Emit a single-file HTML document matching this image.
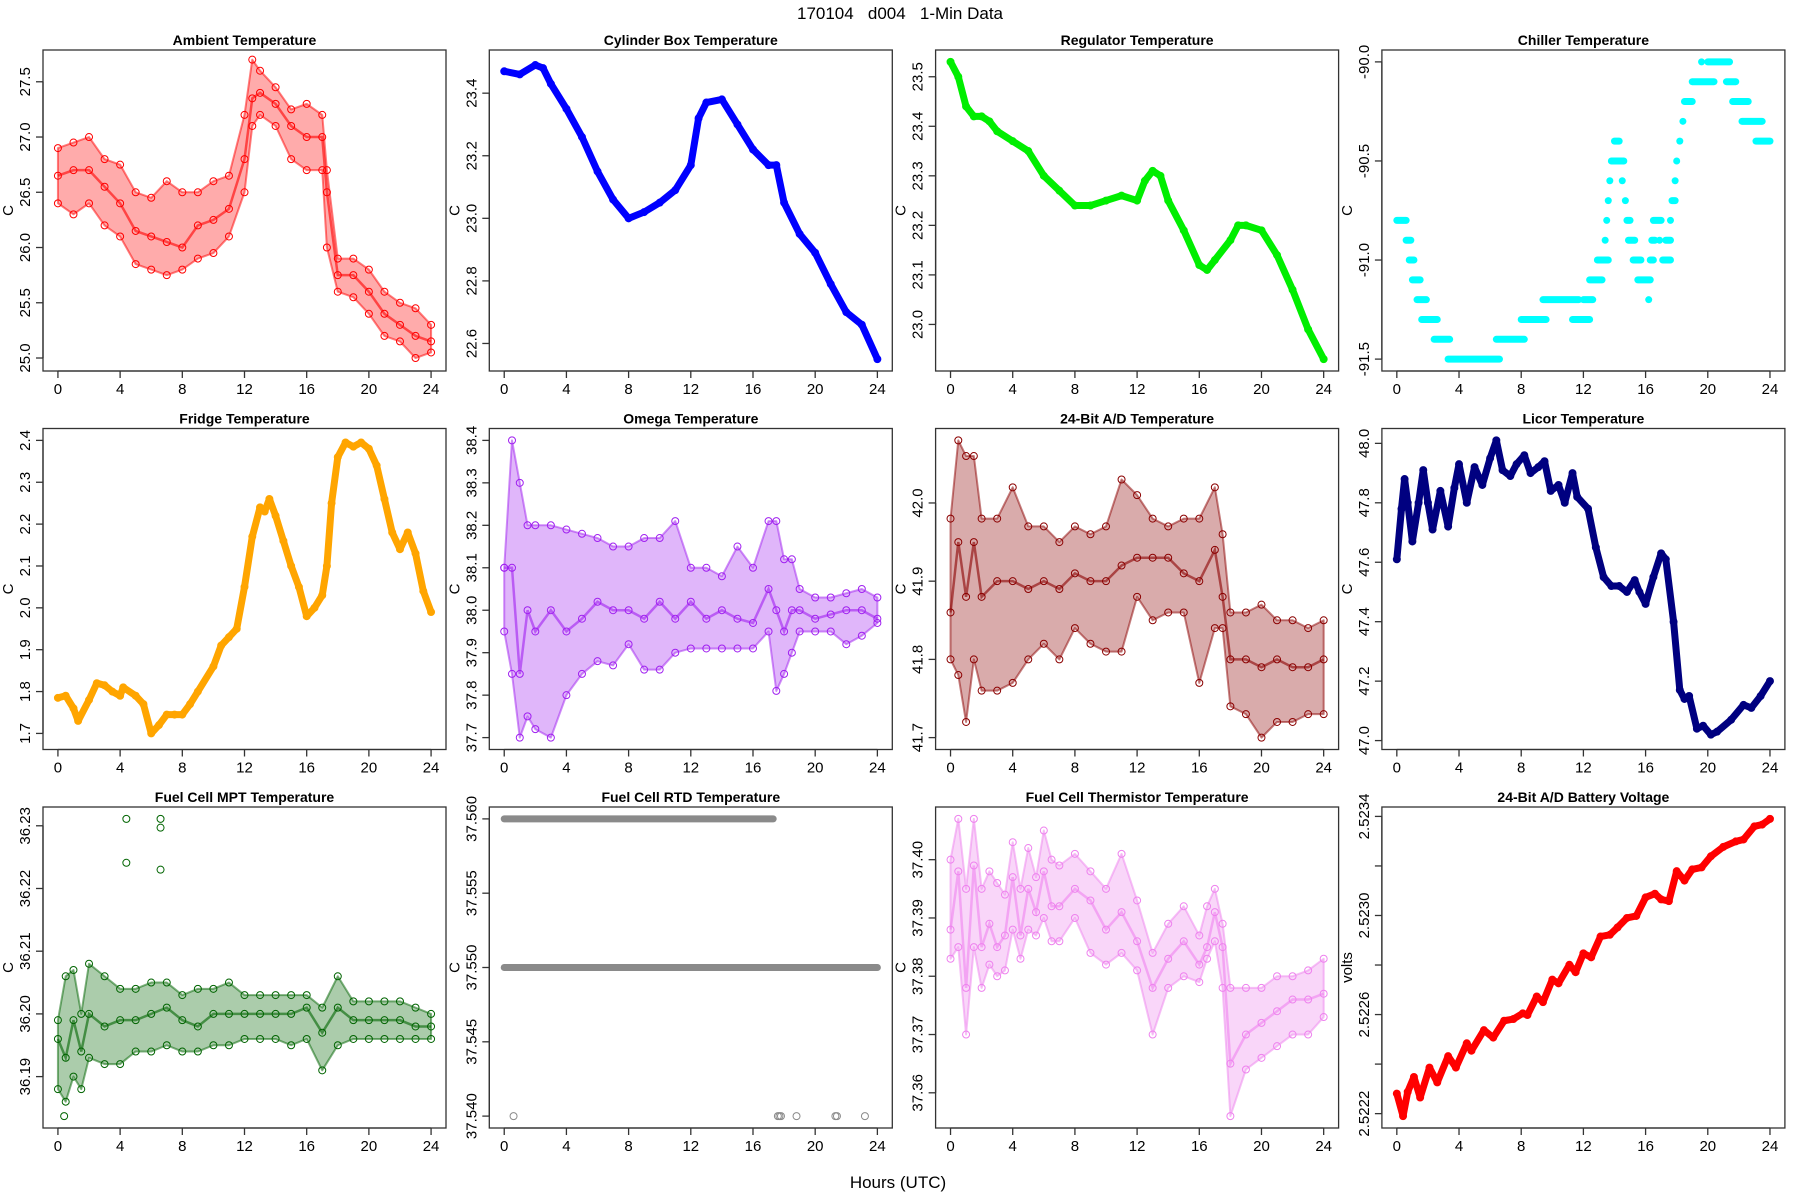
<!DOCTYPE html>
<html><head><meta charset="utf-8"><title>170104 d004 1-Min Data</title>
<style>
html,body{margin:0;padding:0;background:#fff;}
svg{display:block;font-family:"Liberation Sans",Arial,sans-serif;}
</style></head>
<body>
<svg id="root" width="1800" height="1200" viewBox="0 0 1800 1200" xmlns="http://www.w3.org/2000/svg">
<rect x="0" y="0" width="1800" height="1200" fill="#fff"/>
<text x="900" y="19" text-anchor="middle" font-size="17" xml:space="preserve">170104   d004   1-Min Data</text>
<text x="898" y="1188" text-anchor="middle" font-size="17">Hours (UTC)</text>
</svg>
<script>
// ---------- data ----------
const xTicks=[0,4,8,12,16,20,24];

const ambHours=[0,1,2,3,4,5,6,7,8,9,10,11,12,12.5,13,14,15,16,17,17.3,18,19,20,21,22,23,24];
const ambMid=[26.65,26.7,26.7,26.55,26.4,26.15,26.1,26.05,26.0,26.2,26.25,26.35,26.8,27.35,27.4,27.3,27.1,27.0,27.0,26.5,25.75,25.75,25.6,25.4,25.3,25.2,25.15];
const ambLo=[26.4,26.3,26.4,26.2,26.1,25.85,25.8,25.75,25.8,25.9,25.95,26.1,26.5,27.1,27.2,27.1,26.8,26.7,26.7,26.0,25.6,25.55,25.4,25.2,25.15,25.0,25.05];
const ambHi=[26.9,26.95,27.0,26.8,26.75,26.5,26.45,26.6,26.5,26.5,26.6,26.65,27.2,27.7,27.6,27.45,27.25,27.3,27.2,26.7,25.9,25.9,25.8,25.6,25.5,25.45,25.3];
const ambTicks=[25.0,25.5,26.0,26.5,27.0,27.5];

const cylHours=[0,1,2,2.5,3,4,5,6,7,8,9,10,11,12,12.5,13,14,15,16,17,17.5,18,19,20,21,22,23,24];
const cylVals=[23.47,23.46,23.49,23.48,23.43,23.35,23.26,23.15,23.06,23.0,23.02,23.05,23.09,23.17,23.32,23.37,23.38,23.30,23.22,23.17,23.17,23.05,22.95,22.89,22.79,22.70,22.66,22.55];
const cylTicks=[22.6,22.8,23.0,23.2,23.4];

const regHours=[0,0.5,1,1.5,2,2.5,3,4,5,6,7,8,9,10,11,12,12.5,13,13.5,14,15,16,16.5,17,18,18.5,19,20,21,22,23,24];
const regVals=[23.53,23.50,23.44,23.42,23.42,23.41,23.39,23.37,23.35,23.30,23.27,23.24,23.24,23.25,23.26,23.25,23.29,23.31,23.30,23.25,23.19,23.12,23.11,23.13,23.17,23.20,23.20,23.19,23.14,23.07,22.99,22.93];
const regTicks=[23.0,23.1,23.2,23.3,23.4,23.5];

const chlStart=[0,0.6,0.8,1.0,1.3,1.6,2.4,3.3,6.4,8.0,9.4,11.3,12.0,12.4,12.9,13.4,13.5,13.6,13.7,13.8,14.0,14.2,14.5,14.7,14.8,14.9,15.2,15.5,16.2,16.3,16.4,16.5,16.9,17.1,17.3,17.6,17.7,17.9,18.0,18.2,18.4,18.5,19.0,19.6,20.0,21.2,21.6,22.2,23.1];
const chlEnd=[0.6,0.9,1.1,1.5,1.9,2.6,3.4,6.6,8.2,9.6,11.7,12.4,12.6,13.2,13.6,13.4,13.5,13.6,13.7,14.2,14.3,14.6,14.5,14.7,15.0,15.3,15.7,16.3,16.2,16.5,16.6,17.0,16.9,17.6,17.6,17.6,17.9,17.9,18.0,18.2,18.4,19.0,20.4,19.6,21.4,21.8,22.6,23.5,24.0];
const chlVals=[-90.8,-90.9,-91.0,-91.1,-91.2,-91.3,-91.4,-91.5,-91.4,-91.3,-91.2,-91.3,-91.2,-91.1,-91.0,-90.9,-90.8,-90.7,-90.6,-90.5,-90.4,-90.5,-90.6,-90.7,-90.8,-90.9,-91.0,-91.1,-91.2,-91.0,-90.9,-90.8,-90.9,-91.0,-90.9,-90.8,-90.7,-90.6,-90.5,-90.4,-90.3,-90.2,-90.1,-90.0,-90.0,-90.1,-90.2,-90.3,-90.4];
const chlTicks=[-91.5,-91.0,-90.5,-90.0];

const frgHours=[0,0.5,1,1.3,2,2.5,3,3.5,4,4.2,5,5.5,6,6.5,7,7.5,8,8.5,9,10,10.5,11,11.5,12,12.5,13,13.3,13.6,14,14.5,15,15.5,16,16.5,17,17.3,17.6,18,18.5,19,19.5,20,20.5,21,21.5,22,22.5,23,23.5,24];
const frgVals=[1.785,1.79,1.76,1.73,1.78,1.82,1.815,1.80,1.79,1.81,1.79,1.77,1.70,1.72,1.745,1.745,1.745,1.77,1.80,1.86,1.91,1.93,1.95,2.05,2.17,2.24,2.23,2.26,2.22,2.16,2.10,2.05,1.98,2.00,2.03,2.10,2.25,2.36,2.395,2.385,2.395,2.38,2.34,2.26,2.18,2.14,2.18,2.13,2.04,1.99];
const frgTicks=[1.7,1.8,1.9,2.0,2.1,2.2,2.3,2.4];

const omgHours=[0,0.5,1,1.5,2,3,4,5,6,7,8,9,10,11,12,13,14,15,16,17,17.5,18,18.5,19,20,21,22,23,24];
const omgMid=[38.1,38.1,37.85,38.0,37.95,38.0,37.95,37.98,38.02,38.0,38.0,37.98,38.02,37.98,38.02,37.98,38.0,37.98,37.97,38.05,38.0,37.95,38.0,38.0,37.98,37.99,38.0,38.0,37.98];
const omgLo=[37.95,37.85,37.70,37.75,37.72,37.70,37.80,37.85,37.88,37.87,37.92,37.86,37.86,37.9,37.91,37.91,37.91,37.91,37.91,37.95,37.81,37.85,37.9,37.95,37.95,37.95,37.92,37.94,37.97];
const omgHi=[38.1,38.40,38.3,38.2,38.2,38.2,38.19,38.18,38.17,38.15,38.15,38.17,38.17,38.21,38.1,38.1,38.08,38.15,38.1,38.21,38.21,38.12,38.12,38.05,38.03,38.03,38.04,38.05,38.03];
const omgTicks=[37.7,37.8,37.9,38.0,38.1,38.2,38.3,38.4];

const adHours=[0,0.5,1,1.5,2,3,4,5,6,7,8,9,10,11,12,13,14,15,16,17,17.5,18,19,20,21,22,23,24];
const adMid=[41.86,41.95,41.88,41.95,41.88,41.90,41.90,41.89,41.90,41.89,41.91,41.90,41.90,41.92,41.93,41.93,41.93,41.91,41.90,41.94,41.88,41.80,41.80,41.79,41.80,41.79,41.79,41.80];
const adLo=[41.80,41.78,41.72,41.80,41.76,41.76,41.77,41.80,41.82,41.80,41.84,41.82,41.81,41.81,41.88,41.85,41.86,41.86,41.77,41.84,41.84,41.74,41.73,41.70,41.72,41.72,41.73,41.73];
const adHi=[41.98,42.08,42.06,42.06,41.98,41.98,42.02,41.97,41.97,41.95,41.97,41.96,41.97,42.03,42.01,41.98,41.97,41.98,41.98,42.02,41.96,41.86,41.86,41.87,41.85,41.85,41.84,41.85];
const adTicks=[41.7,41.8,41.9,42.0];

const licHours=[0,0.3,0.5,0.7,1,1.4,1.7,2,2.3,2.8,3.3,3.7,4,4.5,5,5.5,6,6.4,6.8,7.3,7.7,8.2,8.6,9.1,9.5,9.9,10.4,10.8,11.3,11.6,12.3,12.8,13.3,13.8,14.3,14.8,15.3,15.6,16,16.5,17,17.3,17.8,18.2,18.5,18.8,19.3,19.7,20.2,20.6,21.5,22.3,22.8,23.4,24];
const licVals=[47.61,47.78,47.88,47.80,47.67,47.80,47.91,47.80,47.71,47.84,47.72,47.85,47.93,47.80,47.92,47.86,47.95,48.01,47.91,47.89,47.93,47.96,47.90,47.92,47.94,47.84,47.86,47.80,47.90,47.82,47.78,47.65,47.55,47.52,47.52,47.50,47.54,47.50,47.46,47.55,47.63,47.61,47.40,47.17,47.14,47.15,47.04,47.05,47.02,47.03,47.07,47.12,47.11,47.15,47.20];
const licTicks=[47.0,47.2,47.4,47.6,47.8,48.0];

const mptHours=[0,0.5,1,1.5,2,3,4,5,6,7,8,9,10,11,12,13,14,15,16,17,18,19,20,21,22,23,24];
const mptMid=[36.196,36.193,36.199,36.194,36.200,36.198,36.199,36.199,36.200,36.201,36.199,36.198,36.200,36.200,36.200,36.200,36.200,36.200,36.201,36.197,36.201,36.199,36.199,36.199,36.199,36.198,36.198];
const mptLo=[36.188,36.186,36.190,36.188,36.193,36.192,36.192,36.194,36.194,36.195,36.194,36.194,36.195,36.195,36.196,36.196,36.196,36.195,36.196,36.191,36.195,36.196,36.196,36.196,36.196,36.196,36.196];
const mptHi=[36.199,36.206,36.207,36.200,36.208,36.206,36.204,36.204,36.205,36.205,36.203,36.204,36.204,36.205,36.203,36.203,36.203,36.203,36.203,36.201,36.206,36.202,36.202,36.202,36.202,36.201,36.200];
const mptOutHours=[4.4,4.4,6.6,6.6,6.6,0.4];
const mptOutVals=[36.2311,36.2241,36.2311,36.2297,36.2230,36.1837];
const mptTicks=[36.19,36.20,36.21,36.22,36.23];

const rtdStart=[0,0];
const rtdEnd=[17.3,24];
const rtdLevels=[37.56,37.55];
const rtdLowHours=[0.6,17.6,17.7,17.8,18.8,21.3,21.4,23.2];
const rtdLowVals=[37.54,37.54,37.54,37.54,37.54,37.54,37.54,37.54];
const rtdTicks=[37.540,37.545,37.550,37.555,37.560];

const thmHours=[0,0.5,1,1.5,2,2.5,3,3.5,4,4.5,5,5.5,6,6.5,7,8,9,10,11,12,13,14,15,16,16.5,17,17.5,18,19,20,21,22,23,24];
const thmMid=[37.388,37.398,37.378,37.399,37.385,37.389,37.385,37.387,37.397,37.387,37.395,37.391,37.398,37.392,37.392,37.395,37.393,37.388,37.391,37.386,37.378,37.383,37.386,37.382,37.385,37.391,37.385,37.365,37.370,37.372,37.374,37.376,37.376,37.377];
const thmLo=[37.383,37.385,37.370,37.385,37.378,37.382,37.380,37.381,37.388,37.383,37.388,37.387,37.390,37.386,37.386,37.390,37.384,37.382,37.384,37.381,37.370,37.378,37.380,37.379,37.383,37.386,37.378,37.356,37.364,37.366,37.368,37.370,37.370,37.373];
const thmHi=[37.400,37.407,37.395,37.407,37.395,37.398,37.396,37.394,37.403,37.395,37.402,37.397,37.405,37.400,37.399,37.401,37.398,37.395,37.401,37.393,37.384,37.389,37.392,37.387,37.392,37.395,37.389,37.378,37.378,37.378,37.380,37.380,37.381,37.383];
const thmTicks=[37.36,37.37,37.38,37.39,37.40];

const batHours=[0,0.4,0.7,1.1,1.5,2.1,2.6,3.3,3.8,4.5,4.8,5.6,6.2,6.9,7.5,8.1,8.4,9.0,9.4,10.0,10.4,11.1,11.5,12.0,12.5,13.1,13.7,14.2,14.8,15.4,16.0,16.6,17.0,17.5,18.0,18.5,19.0,19.6,20.2,21.0,21.8,22.3,23.0,23.5,24];
const batVals=[2.522281,2.52219,2.522288,2.522348,2.522265,2.522386,2.522326,2.522432,2.522386,2.522484,2.522454,2.522537,2.522507,2.522575,2.522582,2.522605,2.522598,2.522673,2.52265,2.522741,2.522726,2.522801,2.522771,2.522847,2.522831,2.522915,2.522922,2.522952,2.52299,2.522998,2.523073,2.523088,2.523065,2.523058,2.523179,2.523141,2.523186,2.523194,2.523239,2.523277,2.523299,2.523307,2.52336,2.523367,2.52339];
const batTicks=[2.5222,2.5224,2.5226,2.5228,2.5230,2.5232,2.5234];
const batLabels=["2.5222","","2.5226","","2.5230","","2.5234"];

// ---------- drawing ----------
const NS="http://www.w3.org/2000/svg";
const root=document.getElementById('root');
function mk(tag,attrs,parent){const e=document.createElementNS(NS,tag);for(const k in attrs)e.setAttribute(k,attrs[k]);(parent||root).appendChild(e);return e;}
const ROWT=[50,428.5,807];
function makePanel(i,y0,y1){
  const col=i%4,row=Math.floor(i/4);
  const p={L:43+446.3*col,T:ROWT[row],W:403,H:321,y0:y0,y1:y1};
  p.X=h=>p.L+((h+0.96)/25.92)*p.W;
  p.Y=v=>{const r=p.y1-p.y0;return p.T+p.H-((v-(p.y0-0.04*r))/(1.08*r))*p.H;};
  return p;
}
function axes(p,g,title,ylab,yTicks,yLabels,dec){
  const t=mk('text',{x:p.L+p.W/2,y:p.T-5,'text-anchor':'middle','font-size':14,'font-weight':'bold'},g);
  t.textContent=title;
  
  
  const b=mk('rect',{x:p.L,y:p.T,width:p.W,height:p.H,fill:'none',stroke:'#333','stroke-width':1.3},g);
  
  
  const xb=p.T+p.H;
  const xl=mk('line',{x1:p.X(xTicks[0]),x2:p.X(xTicks[xTicks.length-1]),y1:xb,y2:xb,stroke:'#333','stroke-width':1.3},g);
  
  
  xTicks.forEach(h=>{
    const tk=mk('line',{x1:p.X(h),x2:p.X(h),y1:xb,y2:xb+7,stroke:'#333','stroke-width':1.3},g);
    
    
    const lb=mk('text',{x:p.X(h),y:xb+23,'text-anchor':'middle','font-size':15},g);
    lb.textContent=String(h);
    
    
  });
  const yl=mk('line',{x1:p.L,x2:p.L,y1:p.Y(yTicks[0]),y2:p.Y(yTicks[yTicks.length-1]),stroke:'#333','stroke-width':1.3},g);
  
  
  yTicks.forEach((v,k)=>{
    const y=p.Y(v);
    const tk=mk('line',{x1:p.L-7,x2:p.L,y1:y,y2:y,stroke:'#333','stroke-width':1.3},g);
    
    
    const s=yLabels?yLabels[k]:v.toFixed(dec);
    if(s){
      const lb=mk('text',{x:p.L-13,y:y,'text-anchor':'middle','font-size':15,transform:`rotate(-90 ${p.L-13} ${y})`},g);
      lb.textContent=s;
      
      
    }
  });
  const yt=mk('text',{x:p.L-30,y:p.T+p.H/2,'text-anchor':'middle','font-size':15,transform:`rotate(-90 ${p.L-30} ${p.T+p.H/2})`},g);
  yt.textContent=ylab;
  
  
}
function circles(p,g,hs,vs,color){
  hs.forEach((h,k)=>{
    const c=mk('circle',{cx:p.X(h),cy:p.Y(vs[k]),r:3.5,fill:'none',stroke:color,'stroke-width':1},g);
    
    
  });
}
function lineSeries(p,g,hs,vs,color){
  const pl=mk('polyline',{points:hs.map((h,k)=>p.X(h)+','+p.Y(vs[k])).join(' '),fill:'none',stroke:color,'stroke-width':7,'stroke-linejoin':'round','stroke-linecap':'round'},g);
  
  
  circles(p,g,hs,vs,color);
}
function bandSeries(p,g,hs,mid,lo,hi,color){
  const pts=hs.map((h,k)=>p.X(h)+','+p.Y(hi[k])).concat(hs.slice().reverse().map((h,k)=>p.X(h)+','+p.Y(lo[hs.length-1-k])));
  const pg=mk('polygon',{points:pts.join(' '),fill:color,'fill-opacity':0.33,stroke:color,'stroke-opacity':0.5,'stroke-width':2,'stroke-linejoin':'round'},g);
  
  
  const pl=mk('polyline',{points:hs.map((h,k)=>p.X(h)+','+p.Y(mid[k])).join(' '),fill:'none',stroke:color,'stroke-width':2.5,'stroke-opacity':0.6},g);
  
  
  circles(p,g,hs,mid,color);
  circles(p,g,hs,lo,color);
  circles(p,g,hs,hi,color);
}
function segSeries(p,g,s,e,v,color){
  s.forEach((h,k)=>{
    const ln=mk('line',{x1:p.X(h),x2:p.X(e[k]),y1:p.Y(v[k]),y2:p.Y(v[k]),stroke:color,'stroke-width':7,'stroke-linecap':'round'},g);
    
    
  });
}
function group(name){const g=mk('g',{});return g;}

let p,g;
p=makePanel(0,24.99,27.68);g=group('ambient-temperature-panel');
axes(p,g,'Ambient Temperature','C',ambTicks,null,1);bandSeries(p,g,ambHours,ambMid,ambLo,ambHi,'#ff0000');

p=makePanel(1,22.55,23.50);g=group('cylinder-box-temperature-panel');
axes(p,g,'Cylinder Box Temperature','C',cylTicks,null,1);lineSeries(p,g,cylHours,cylVals,'#0000ff');

p=makePanel(2,22.93,23.53);g=group('regulator-temperature-panel');
axes(p,g,'Regulator Temperature','C',regTicks,null,1);lineSeries(p,g,regHours,regVals,'#00ee00');

p=makePanel(3,-91.5,-90.0);g=group('chiller-temperature-panel');
axes(p,g,'Chiller Temperature','C',chlTicks,null,1);segSeries(p,g,chlStart,chlEnd,chlVals,'#00ffff');

p=makePanel(4,1.69,2.40);g=group('fridge-temperature-panel');
axes(p,g,'Fridge Temperature','C',frgTicks,null,1);lineSeries(p,g,frgHours,frgVals,'#ffa500');

p=makePanel(5,37.70,38.40);g=group('omega-temperature-panel');
axes(p,g,'Omega Temperature','C',omgTicks,null,1);bandSeries(p,g,omgHours,omgMid,omgLo,omgHi,'#a020f0');

p=makePanel(6,41.70,42.08);g=group('ad-temperature-panel');
axes(p,g,'24-Bit A/D Temperature','C',adTicks,null,1);bandSeries(p,g,adHours,adMid,adLo,adHi,'#8b0000');

p=makePanel(7,47.01,48.01);g=group('licor-temperature-panel');
axes(p,g,'Licor Temperature','C',licTicks,null,1);lineSeries(p,g,licHours,licVals,'#000080');

p=makePanel(8,36.1837,36.2311);g=group('fuel-cell-mpt-panel');
axes(p,g,'Fuel Cell MPT Temperature','C',mptTicks,null,2);bandSeries(p,g,mptHours,mptMid,mptLo,mptHi,'#006400');circles(p,g,mptOutHours,mptOutVals,'#006400');

p=makePanel(9,37.54,37.56);g=group('fuel-cell-rtd-panel');
axes(p,g,'Fuel Cell RTD Temperature','C',rtdTicks,null,3);segSeries(p,g,rtdStart,rtdEnd,rtdLevels,'#8a8a8a');circles(p,g,rtdLowHours,rtdLowVals,'#8a8a8a');

p=makePanel(10,37.356,37.407);g=group('fuel-cell-thermistor-panel');
axes(p,g,'Fuel Cell Thermistor Temperature','C',thmTicks,null,2);bandSeries(p,g,thmHours,thmMid,thmLo,thmHi,'#ee82ee');

p=makePanel(11,2.52219,2.52339);g=group('battery-voltage-panel');
axes(p,g,'24-Bit A/D Battery Voltage','volts',batTicks,batLabels,4);lineSeries(p,g,batHours,batVals,'#ff0000');
</script>
</body></html>
